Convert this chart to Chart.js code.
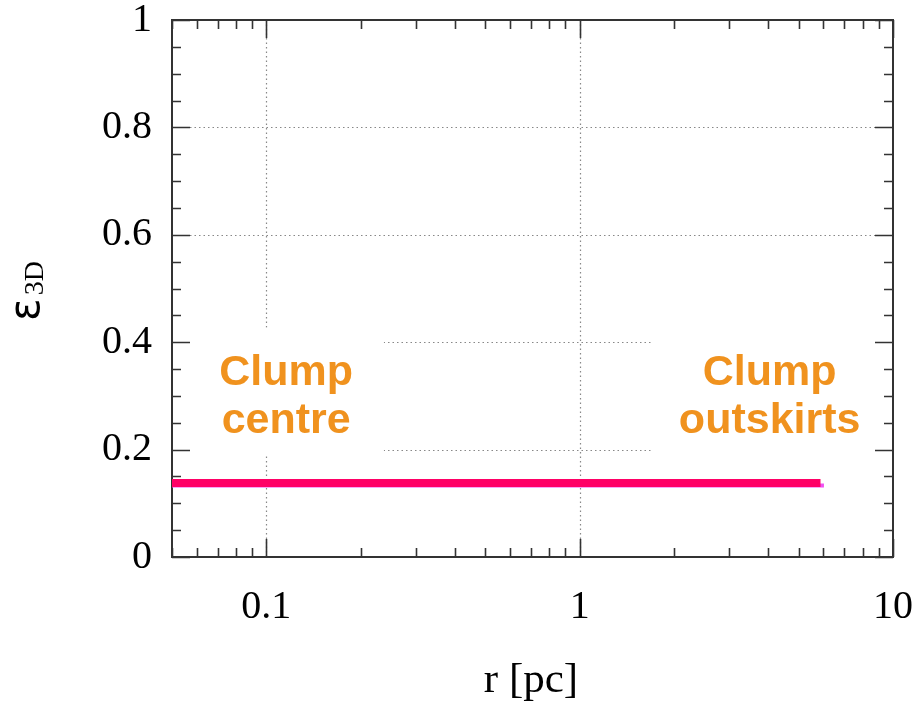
<!DOCTYPE html>
<html>
<head>
<meta charset="utf-8">
<script src="https://cdn.jsdelivr.net/npm/chart.js@4.4.1/dist/chart.umd.min.js"></script>
<style>
  body { margin: 0; background: #fff; }
  #wrap { width: 924px; height: 701px; }
</style>
</head>
<body>
<div id="wrap"><canvas id="myChart"></canvas></div>
<script>
// ellipticity profile vs radius
const radius = [0.05, 5.87];
const eps3D = [0.138, 0.138];
const radiusEdge = [0.05, 6.02];
const eps3DEdge = [0.133, 0.133];

const xMajor = [0.1, 1, 10];
const yMajor = [0, 0.2, 0.4, 0.6, 0.8, 1];
const xMin = 0.05, xMax = 10;

// annotation text anchors and the white box behind each [x0, x1, yTop, yBottom]
const notes = [
  { lines: ['Clump', 'centre'], x: 0.1157, y: 0.32, box: [xMin, 0.239, 0.427, 0.188] },
  { lines: ['Clump', 'outskirts'], x: 4.04, y: 0.32, box: [1.68, xMax, 0.427, 0.188] }
];

// all log ticks (majors + 2..9 minors) inside the range
const xTicks = [];
[0.01, 0.1, 1].forEach(function(d){
  for (let k = 1; k <= 9; k++) {
    const v = k * d;
    if (v >= xMin - 1e-9 && v <= xMax) xTicks.push(v);
  }
});
xTicks.push(10);

const serif = '"Liberation Serif", "DejaVu Serif", serif';
const sans = '"Liberation Sans", Arial, sans-serif';

const framePlugin = {
  id: 'frame',
  beforeDatasetsDraw(chart) {
    const ctx = chart.ctx, a = chart.chartArea;
    const xs = chart.scales.x, ys = chart.scales.y;
    ctx.save();

    // dotted grid at the major ticks
    ctx.strokeStyle = '#888';
    ctx.lineWidth = 1.2;
    ctx.setLineDash([1.5, 3]);
    xMajor.forEach(function(v){
      const px = Math.round(xs.getPixelForValue(v)) + 0.5;
      if (px <= a.left + 1 || px >= a.right - 1) return;
      ctx.beginPath(); ctx.moveTo(px, a.top); ctx.lineTo(px, a.bottom); ctx.stroke();
    });
    yMajor.forEach(function(v){
      const py = Math.round(ys.getPixelForValue(v)) + 0.5;
      if (py <= a.top + 1 || py >= a.bottom - 1) return;
      ctx.beginPath(); ctx.moveTo(a.left, py); ctx.lineTo(a.right, py); ctx.stroke();
    });
    ctx.setLineDash([]);

    // white backing behind the annotations
    ctx.fillStyle = '#fff';
    notes.forEach(function(n){
      const x0 = xs.getPixelForValue(n.box[0]);
      const x1 = xs.getPixelForValue(n.box[1]);
      const y0 = ys.getPixelForValue(n.box[2]);
      const y1 = ys.getPixelForValue(n.box[3]);
      ctx.fillRect(x0 + 1, y0, x1 - x0 - 2, y1 - y0);
    });

    // frame
    ctx.strokeStyle = '#333';
    ctx.lineWidth = 2;
    ctx.strokeRect(a.left, a.top, a.right - a.left, a.bottom - a.top);

    // inward ticks on all four sides
    ctx.lineWidth = 1.6;
    ctx.beginPath();
    xTicks.forEach(function(v){
      const px = Math.round(xs.getPixelForValue(v)) + 0.5;
      const len = xMajor.includes(v) ? 18 : 9;
      ctx.moveTo(px, a.bottom); ctx.lineTo(px, a.bottom - len);
      ctx.moveTo(px, a.top); ctx.lineTo(px, a.top + len);
    });
    for (let i = 0; i <= 20; i++) {
      const v = i * 0.05;
      const py = Math.round(ys.getPixelForValue(v)) + 0.5;
      const len = i % 4 === 0 ? 18 : 9;
      ctx.moveTo(a.left, py); ctx.lineTo(a.left + len, py);
      ctx.moveTo(a.right, py); ctx.lineTo(a.right - len, py);
    }
    ctx.stroke();
    ctx.restore();
  },
  afterDatasetsDraw(chart) {
    const ctx = chart.ctx;
    const xs = chart.scales.x, ys = chart.scales.y;
    ctx.save();
    ctx.fillStyle = '#f0921e';
    ctx.font = 'bold 43px ' + sans;
    ctx.textAlign = 'center';
    ctx.textBaseline = 'alphabetic';
    notes.forEach(function(n){
      const px = xs.getPixelForValue(n.x);
      const py = ys.getPixelForValue(n.y);
      n.lines.forEach(function(t, i){ ctx.fillText(t, px, py + i * 48); });
    });
    ctx.restore();
  },
  afterDraw(chart) {
    const ctx = chart.ctx;
    ctx.save();
    ctx.fillStyle = '#000';
    // x title
    ctx.font = '43px ' + serif;
    ctx.textAlign = 'center';
    ctx.textBaseline = 'alphabetic';
    ctx.fillText('r [pc]', 531, 692);
    // y title with subscript
    ctx.translate(39, 321);
    ctx.rotate(-Math.PI / 2);
    ctx.textAlign = 'left';
    ctx.font = '42px "DejaVu Sans", sans-serif';
    ctx.fillText('ε', 0, 0);
    const w = ctx.measureText('ε').width;
    ctx.font = '28px ' + serif;
    ctx.fillText('3D', w + 3, 4);
    ctx.restore();
  }
};

const config = {
  type: 'line',
  data: {
    datasets: [
      {
        label: 'ε3D',
        data: radius.map(function(r, i){ return { x: r, y: eps3D[i] }; }),
        borderColor: '#ff0066',
        borderWidth: 8,
        pointRadius: 0,
        borderCapStyle: 'butt'
      },
      {
        label: 'ε3D edge',
        data: radiusEdge.map(function(r, i){ return { x: r, y: eps3DEdge[i] }; }),
        borderColor: '#f050f0',
        borderWidth: 4,
        pointRadius: 0,
        borderCapStyle: 'butt'
      }
    ]
  },
  options: {
    responsive: true,
    maintainAspectRatio: false,
    animation: false,
    layout: { padding: { top: 20, right: 31, left: 0, bottom: 0 } },
    plugins: { legend: { display: false }, tooltip: { enabled: false } },
    scales: {
      x: {
        type: 'logarithmic',
        min: xMin,
        max: xMax,
        afterBuildTicks: function(scale){ scale.ticks = xTicks.map(function(v){ return { value: v }; }); },
        afterFit: function(scale){
          scale.height = 144;
          scale.paddingLeft = 0; scale.paddingRight = 0;
        },
        grid: { display: false, drawTicks: false },
        border: { display: false },
        ticks: {
          autoSkip: false,
          maxRotation: 0,
          padding: 26,
          color: '#000',
          font: { family: serif, size: 40 },
          callback: function(v){ return xMajor.includes(v) ? String(v) : ''; }
        }
      },
      y: {
        type: 'linear',
        min: 0,
        max: 1,
        afterBuildTicks: function(scale){ scale.ticks = yMajor.map(function(v){ return { value: v }; }); },
        afterFit: function(scale){
          scale.width = 172;
          scale.paddingTop = 0; scale.paddingBottom = 0;
        },
        grid: { display: false, drawTicks: false },
        border: { display: false },
        ticks: {
          padding: 20,
          color: '#000',
          font: { family: serif, size: 40 },
          callback: function(v){ return String(v); }
        }
      }
    }
  },
  plugins: [framePlugin]
};

new Chart(document.getElementById('myChart'), config);
</script>
</body>
</html>
